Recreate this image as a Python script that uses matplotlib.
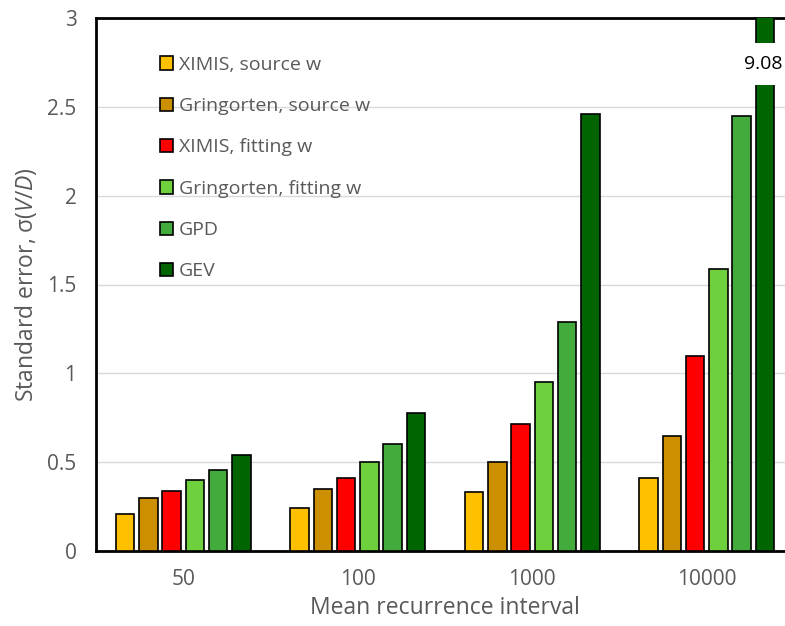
import matplotlib
matplotlib.use("Agg")
import matplotlib.pyplot as plt
import numpy as np

plt.rcParams['font.family'] = ['Open Sans', 'DejaVu Sans']
plt.rcParams['mathtext.fontset'] = 'custom'
plt.rcParams['mathtext.rm'] = 'Open Sans'
plt.rcParams['mathtext.it'] = 'Open Sans:italic'

intervals = ["50", "100", "1000", "10000"]
series_names = ["XIMIS, source w", "Gringorten, source w", "XIMIS, fitting w",
                "Gringorten, fitting w", "GPD", "GEV"]
ximis_source = [0.21, 0.24, 0.33, 0.41]
gringorten_source = [0.30, 0.35, 0.50, 0.645]
ximis_fitting = [0.335, 0.41, 0.715, 1.095]
gringorten_fitting = [0.40, 0.50, 0.95, 1.59]
gpd = [0.455, 0.60, 1.29, 2.45]
gev = [0.54, 0.775, 2.46, 9.08]
colors = ["#FFC000", "#CC8F00", "#FF0000", "#6FD03E", "#43AB3B", "#006400"]

gray = "#595959"
fig = plt.figure(figsize=(7.85, 6.26), dpi=100)
ax = fig.add_axes([96 / 785, 75 / 626, (794 - 96) / 785, (551 - 18) / 626])

x = np.arange(len(intervals))
pitch = 0.133
width = 0.106
all_series = [ximis_source, gringorten_source, ximis_fitting, gringorten_fitting, gpd, gev]
for i, (vals, name, c) in enumerate(zip(all_series, series_names, colors)):
    ax.bar(x + (i - 2.5) * pitch, vals, width, color=c, edgecolor="black",
           linewidth=1.2, label=name, zorder=3)

# broken bar label for the off-scale GEV value
ax.text(x[-1] + 2.5 * pitch - 0.01, 2.74, f"{gev[-1]:.2f}", ha="center", va="center",
        fontsize=14, color="black", zorder=5,
        bbox=dict(facecolor="white", edgecolor="none", boxstyle="square,pad=0.62"))

ax.set_xlim(-0.5, 3.5)
ax.set_ylim(0, 3)
ax.set_yticks(np.arange(0, 3.01, 0.5))
ax.set_yticklabels(["0", "0.5", "1", "1.5", "2", "2.5", "3"])
ax.set_xticks(x)
ax.set_xticklabels(intervals)
ax.tick_params(axis="both", length=0, labelsize=15, colors=gray)
ax.tick_params(axis="x", pad=13)
ax.tick_params(axis="y", pad=14)
ax.yaxis.grid(True, color="#d9d9d9", linewidth=1, zorder=0)
ax.set_axisbelow(True)
for s in ["left", "bottom", "top"]:
    ax.spines[s].set_linewidth(2)
    ax.spines[s].set_color("black")
ax.spines["right"].set_visible(False)

ax.set_xlabel("Mean recurrence interval", fontsize=16.5, color=gray, labelpad=4)
ax.set_ylabel(r"Standard error, σ($V/D$)", fontsize=16.5, color=gray, labelpad=6)

ax.legend(loc="upper left", bbox_to_anchor=(0.066, 0.962), frameon=False,
          fontsize=14, labelcolor=gray, handlelength=0.68, handleheight=0.68,
          handletextpad=0.3, labelspacing=1.2)

fig.savefig("out.png", dpi=100)
